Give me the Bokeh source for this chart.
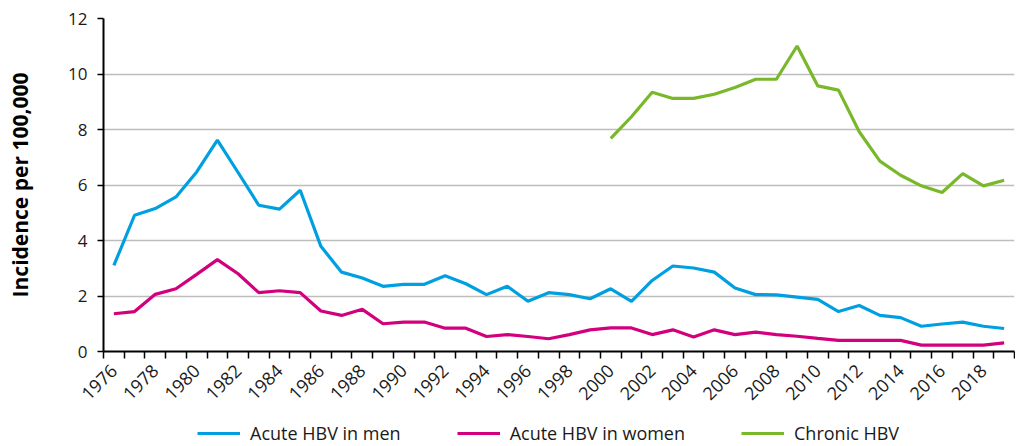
import math
from bokeh.plotting import figure
from bokeh.layouts import column
from bokeh.models import Legend, LegendItem, FixedTicker, ColumnDataSource
from bokeh.embed import file_html
from bokeh.resources import INLINE

years = list(range(1976, 2020))
men = [3.10, 4.91, 5.15, 5.57, 6.47, 7.62, 6.45, 5.27, 5.13, 5.81, 3.79, 2.86,
       2.65, 2.35, 2.42, 2.42, 2.73, 2.44, 2.05, 2.35, 1.81, 2.12, 2.05, 1.90,
       2.26, 1.81, 2.56, 3.08, 3.01, 2.86, 2.29, 2.05, 2.04, 1.96, 1.88, 1.44,
       1.66, 1.30, 1.22, 0.91, 0.99, 1.06, 0.91, 0.83]
women = [1.36, 1.44, 2.06, 2.26, 2.78, 3.31, 2.80, 2.12, 2.19, 2.12, 1.46, 1.30,
         1.52, 1.00, 1.06, 1.06, 0.84, 0.84, 0.54, 0.61, 0.54, 0.46, 0.61, 0.78,
         0.85, 0.85, 0.61, 0.78, 0.52, 0.78, 0.61, 0.70, 0.61, 0.55, 0.47, 0.40,
         0.40, 0.40, 0.40, 0.23, 0.23, 0.23, 0.23, 0.31]
chronic_years = list(range(2000, 2020))
chronic = [7.68, 8.46, 9.34, 9.12, 9.12, 9.27, 9.51, 9.81, 9.81, 11.01, 9.57,
           9.42, 7.92, 6.86, 6.35, 5.97, 5.73, 6.41, 5.97, 6.17]
label_years = list(range(1976, 2019, 2))
y_ticks = [0, 2, 4, 6, 8, 10, 12]
series_names = ["Acute HBV in men", "Acute HBV in women", "Chronic HBV"]
colors = ["#00A0E0", "#D3007D", "#78B82A"]

FONT = "Open Sans"
W = 1015

src_a = ColumnDataSource(dict(x=years, men=men, women=women))
src_c = ColumnDataSource(dict(x=chronic_years, y=chronic))

p = figure(width=W, height=416, x_range=(years[0] - 0.5, years[-1] + 0.5),
           y_range=(0, 12), output_backend="svg", toolbar_location=None,
           min_border_left=103, min_border_right=1, min_border_top=18,
           min_border_bottom=65)
p.outline_line_color = None

p.line("x", "men", source=src_a, line_color=colors[0], line_width=3.2)
p.line("x", "women", source=src_a, line_color=colors[1], line_width=3.2)
p.line("x", "y", source=src_c, line_color=colors[2], line_width=3.2)

# x axis
xa = p.xaxis[0]
xa.ticker = FixedTicker(ticks=label_years,
                        minor_ticks=[y - 0.5 for y in years] + [years[-1] + 0.5])
xa.major_tick_line_color = None
xa.minor_tick_line_color = "black"
xa.minor_tick_line_width = 1.5
xa.minor_tick_out = 7
xa.minor_tick_in = 0
xa.axis_line_color = "black"
xa.axis_line_width = 2
xa.major_label_orientation = math.pi / 4
xa.major_label_text_font = FONT
xa.major_label_text_font_size = "18px"
xa.major_label_text_color = "#1a1a1a"
xa.major_label_standoff = 9

# y axis
ya = p.yaxis[0]
ya.ticker = FixedTicker(ticks=y_ticks)
ya.minor_tick_line_color = None
ya.major_tick_line_color = "black"
ya.major_tick_line_width = 1.5
ya.major_tick_out = 6
ya.major_tick_in = 0
ya.axis_line_color = "black"
ya.axis_line_width = 2
ya.major_label_text_font = FONT
ya.major_label_text_font_size = "17px"
ya.major_label_text_color = "#1a1a1a"
ya.major_label_standoff = 10
ya.axis_label = "Incidence per 100,000"
ya.axis_label_text_font = FONT
ya.axis_label_text_font_size = "21px"
ya.axis_label_text_font_style = "bold"
ya.axis_label_text_color = "black"
ya.axis_label_standoff = 31

p.xgrid.grid_line_color = None
p.ygrid.grid_line_color = "#BDBDBD"
p.ygrid.grid_line_width = 1.5

# legend strip: same series, drawn outside its visible range, only the legend shows
lf = figure(width=W, height=30, x_range=(years[0] - 0.5, years[-1] + 0.5),
            y_range=(100, 101), output_backend="svg", toolbar_location=None,
            x_axis_type=None, y_axis_type=None, min_border=0)
lf.outline_line_color = None
lf.grid.visible = False
q1 = lf.line("x", "men", source=src_a, line_color=colors[0], line_width=3.2)
q2 = lf.line("x", "women", source=src_a, line_color=colors[1], line_width=3.2)
q3 = lf.line("x", "y", source=src_c, line_color=colors[2], line_width=3.2)

legend = Legend(items=[LegendItem(label=series_names[0], renderers=[q1]),
                       LegendItem(label=series_names[1], renderers=[q2]),
                       LegendItem(label=series_names[2], renderers=[q3])],
                orientation="horizontal", location=(94, 1),
                padding=0, margin=0, spacing=56, glyph_width=43,
                label_standoff=10, border_line_color=None,
                background_fill_alpha=0,
                label_text_font=FONT, label_text_font_size="18px",
                label_text_color="#1a1a1a")
lf.add_layout(legend, "center")

layout = column(p, lf, spacing=0)
open("out.html", "w").write(file_html(layout, INLINE))
